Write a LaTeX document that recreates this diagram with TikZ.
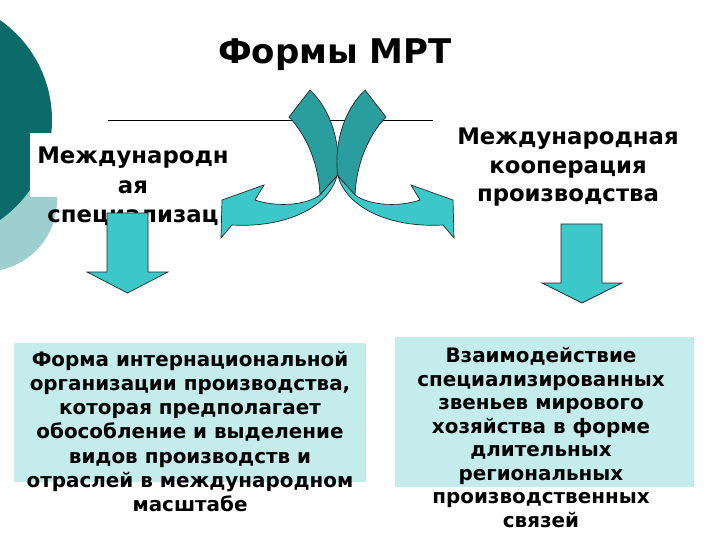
\documentclass[tikz,border=0pt]{standalone}
\usepackage{fontspec}
\setmainfont{DejaVu Sans}
\definecolor{darkcirc}{HTML}{0A6B68}
\definecolor{lightcirc}{HTML}{9ECFCF}
\definecolor{arrowfill}{HTML}{3CC8C8}
\definecolor{arrowdark}{HTML}{2A9E9E}
\definecolor{boxfill}{HTML}{C4ECEC}
\newcommand\titlefnt{\fontsize{34}{40}\selectfont\bfseries}
\newcommand\headfntA{\fontsize{22.8}{29.5}\selectfont\bfseries}
\newcommand\headfntB{\fontsize{22.8}{28.5}\selectfont\bfseries}
\newcommand\bodyfntA{\fontsize{19.9}{24.2}\selectfont\bfseries}
\newcommand\bodyfntB{\fontsize{19.9}{23.45}\selectfont\bfseries}
\newcommand\darkpart{(289,117) -- (310,90) .. controls (335,114) and (341,152) .. (337,176) -- (320,195) .. controls (319,170) and (310,139) .. (289,117) -- cycle}
\newcommand\lightpart{(320,195) -- (337,176) .. controls (328,208) and (285,228) .. (232,225) -- (221,238) -- (222,200) -- (264,185) -- (255,200) .. controls (275,207) and (305,206) .. (320,195) -- cycle}
\begin{document}
\begin{tikzpicture}[x=1pt,y=-1pt,
  outl/.style={draw=black!85, line width=0.7pt, line join=miter},
  blockarrow/.style={outl, fill=arrowfill},
  backpart/.style={outl, fill=arrowdark},
  txt/.style={inner sep=0pt, align=center, anchor=base}]
\useasboundingbox (0,0) rectangle (720,540);
\begin{scope}
  \clip (0,0) rectangle (720,540);
  \fill[lightcirc] (-14.5,200) circle[radius=71.5];
  \fill[darkcirc] (-70,120) circle[radius=122];
\end{scope}
% title
\node[txt, font=\titlefnt] (title) at (335,64) {Формы МРТ};
% horizontal rule
\coordinate (ruleL) at (108,120);
\coordinate (ruleR) at (433,120);
\draw[line width=0.8pt] (ruleL) -- (ruleR);
% left heading (anchor = baseline of last line)
\fill[white] (30,133) rectangle (236,197);
\node[txt, font=\headfntA] (spec) at (133,252) {Международн\\ая\\специализац\\ия};
% right heading
\node[txt, font=\headfntB] (coop) at (568,202) {Международная\\кооперация\\производства};
% bottom boxes
\fill[boxfill] (14,343) rectangle (366,482);
\node[txt, font=\bodyfntA] (specdef) at (190,511.5) {Форма интернациональной\\организации производства,\\которая предполагает\\обособление и выделение\\видов производств и\\отраслей в международном\\масштабе};
\fill[boxfill] (395,337) rectangle (694,487);
\node[txt, font=\bodyfntB] (coopdef) at (541,527) {Взаимодействие\\специализированных\\звеньев мирового\\хозяйства в форме\\длительных\\региональных\\производственных\\связей};
% curved arrows
\path[backpart] \darkpart;
\path[blockarrow] \lightpart;
\begin{scope}[shift={(675,0)}, xscale=-1]
  \path[backpart] \darkpart;
  \path[blockarrow] \lightpart;
\end{scope}
% down arrows
\draw[blockarrow] (107,213) -- (148,213) -- (148,272) -- (168,272) -- (127.5,293) -- (87,272) -- (107,272) -- cycle;
\draw[blockarrow] (561,224) -- (602,224) -- (602,283) -- (622,283) -- (582,303) -- (542,283) -- (561,283) -- cycle;
\end{tikzpicture}
\end{document}
